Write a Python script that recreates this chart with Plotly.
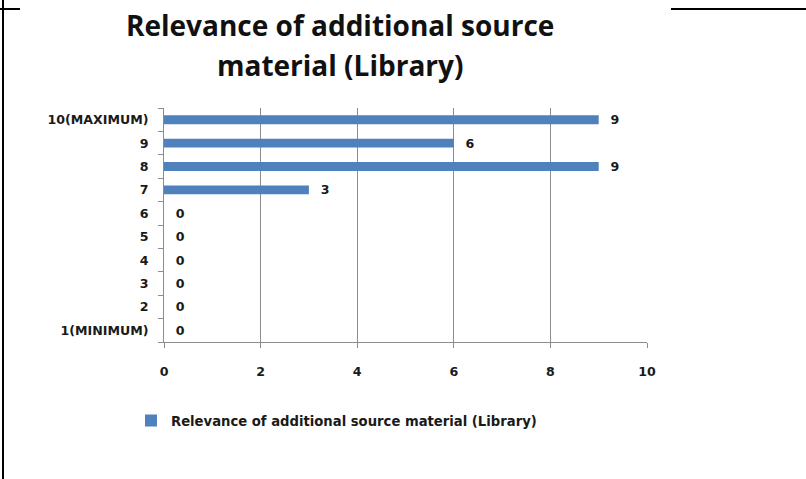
import plotly.graph_objects as go

categories = ["1(MINIMUM)", "2", "3", "4", "5", "6", "7", "8", "9", "10(MAXIMUM)"]
values = [0, 0, 0, 0, 0, 0, 3, 9, 6, 9]
series_name = "Relevance of additional source material (Library)"
title_lines = ["Relevance of additional source", "material (Library)"]
x_ticks = [0, 2, 4, 6, 8, 10]

W, H = 806, 479
L, R, T, B = 164, 647, 108, 342

SMALL = dict(family="DejaVu Sans", size=12.6, color="#1a1a1a", weight="bold")
LEG = dict(family="DejaVu Sans", size=13.2, color="#1a1a1a", weight="bold")
TITLE = dict(family="Open Sans", size=28, color="#111", weight="bold")

fig = go.Figure()
fig.add_trace(go.Bar(
    y=categories, x=values, orientation="h", name=series_name,
    marker=dict(color="#4F81BD", line=dict(width=0)),
    text=["\u00a0\u00a0" + str(v) for v in values], textposition="outside",
    textfont=SMALL, constraintext="none",
    cliponaxis=False, showlegend=True,
))

fig.update_layout(
    width=W, height=H,
    margin=dict(l=L, r=W - R, t=T, b=H - B, pad=0),
    paper_bgcolor="white", plot_bgcolor="white",
    bargap=0.62,
    font=SMALL,
    xaxis=dict(range=[0, 10], tickvals=x_ticks, showgrid=True, gridcolor="#8c8c8c",
               gridwidth=1, showline=True, linecolor="#8c8c8c", ticks="outside",
               ticklen=5, tickcolor="#8c8c8c", zeroline=False,
               ticklabelstandoff=13, tickfont=SMALL, fixedrange=True),
    yaxis=dict(type="category", categoryorder="array", categoryarray=categories,
               showline=True, linecolor="#8c8c8c", ticks="outside", ticklen=5,
               tickcolor="#8c8c8c", tickson="boundaries", showgrid=False,
               ticklabelstandoff=12, tickfont=SMALL, fixedrange=True),
    legend=dict(orientation="h", x=(131 - L) / (R - L), xanchor="left",
                y=-(421 - B) / (B - T), yanchor="middle",
                font=LEG, itemwidth=30, bgcolor="rgba(0,0,0,0)"),
    showlegend=True,
)

for line, yc in zip(title_lines, [25, 65]):
    fig.add_annotation(text=line, xref="paper", yref="paper",
                       x=(340 - L) / (R - L), y=1 + (T - yc) / (B - T), showarrow=False,
                       xanchor="center", yanchor="middle", font=TITLE)

# page frame lines from the original screenshot
def px_x(p):
    return (p - L) / (R - L)

def px_y(p):
    return (B - p) / (B - T)

frame = [((3, 0), (3, 479)), ((0, 9), (20, 9)), ((671, 9), (806, 9))]
for (x0, y0), (x1, y1) in frame:
    fig.add_shape(type="line", xref="paper", yref="paper",
                  x0=px_x(x0), y0=px_y(y0), x1=px_x(x1), y1=px_y(y1),
                  line=dict(color="black", width=2), layer="above")

fig.write_html("out.html", config={"displayModeBar": False},
               post_script="document.body.style.margin='0';")
